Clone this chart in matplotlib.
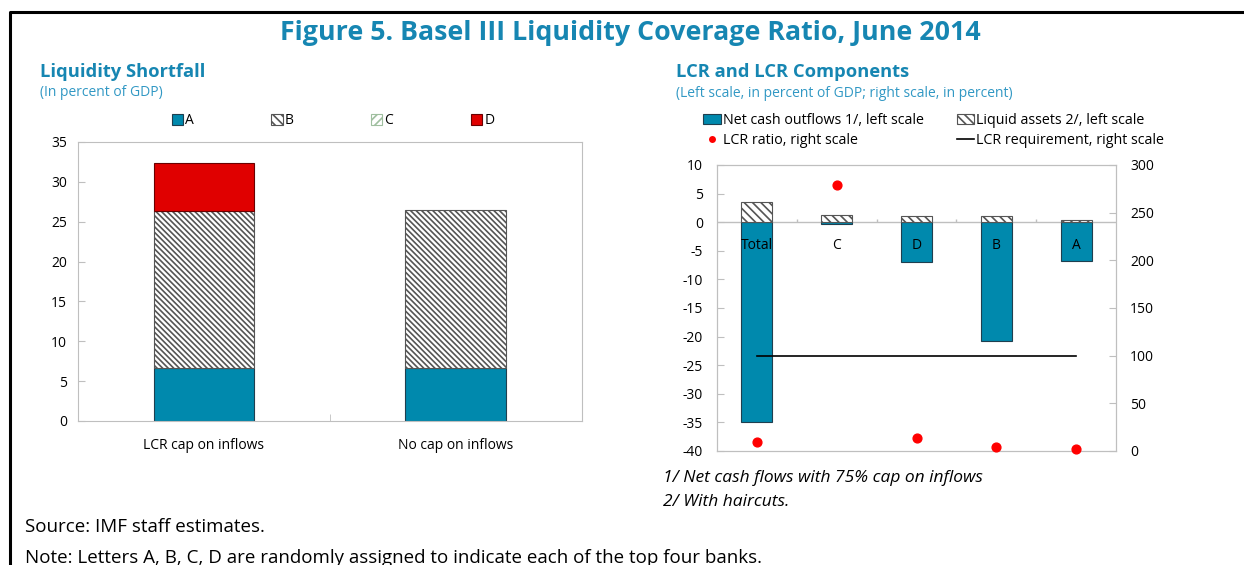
import matplotlib
matplotlib.use("Agg")
import matplotlib.pyplot as plt
from matplotlib.patches import Patch
from matplotlib.lines import Line2D
import numpy as np

# ---- data ----
left_cats = ["LCR cap on inflows", "No cap on inflows"]
short_A = [6.65, 6.65]
short_B = [19.7, 19.8]
short_C = [0.0, 0.0]
short_D = [6.0, 0.0]

right_cats = ["Total", "C", "D", "B", "A"]
net_outflows = [-34.9, -0.4, -6.9, -20.7, -6.8]
liquid_assets = [3.45, 1.2, 1.05, 1.15, 0.3]
lcr_ratio = [9, 279, 14, 4.5, 2]
lcr_requirement = [100, 100, 100, 100, 100]

TEAL = "#0089AD"
RED = "#E00000"
TITLE = "#1686B2"
SUB = "#3198C4"
GRID = "#BFBFBF"

plt.rcParams["font.family"] = ["Open Sans", "DejaVu Sans"]
plt.rcParams["hatch.linewidth"] = 1.2
plt.rcParams["axes.unicode_minus"] = False

fig = plt.figure(figsize=(12.44, 5.65), dpi=100)

fig.text(0.507, 0.942, "Figure 5. Basel III Liquidity Coverage Ratio, June 2014",
         ha="center", va="center", fontsize=19.3, fontweight="bold", color=TITLE)


def lw_for(vals, lw=0.8):
    # no outline on empty segments
    return [lw if v != 0 else 0 for v in vals]


# ---- left panel ----
ax = fig.add_axes([0.0627, 0.2549, 0.405, 0.4938])
x = np.arange(len(left_cats))
w = 0.4
ax.bar(x, short_A, w, color=TEAL, edgecolor="#1f3f4f", lw=lw_for(short_A))
ax.bar(x, short_B, w, bottom=short_A, color="white", edgecolor="#555555",
       hatch="\\\\\\\\\\\\", lw=lw_for(short_B))
bottom_c = np.array(short_A) + np.array(short_B)
ax.bar(x, short_C, w, bottom=bottom_c, color="white", edgecolor="#9fbf9f",
       hatch="////", lw=lw_for(short_C))
bottom_d = bottom_c + np.array(short_C)
ax.bar(x, short_D, w, bottom=bottom_d, color=RED, edgecolor="#6a0000",
       lw=lw_for(short_D))
ax.set_xlim(-0.5, 1.5)
ax.set_ylim(0, 35)
ax.set_yticks(range(0, 36, 5))
ax.set_xticks(x)
ax.set_xticklabels(left_cats, fontsize=10)
ax.set_xticks([0.5], minor=True)
ax.tick_params(axis="y", direction="in", length=5, color=GRID, labelsize=10, pad=8)
ax.tick_params(axis="x", which="major", length=0, pad=12)
ax.tick_params(axis="x", which="minor", direction="in", length=5, color=GRID)
for s in ax.spines.values():
    s.set_color(GRID)

fig.text(0.032, 0.873, "Liquidity Shortfall", fontsize=13.2, fontweight="bold",
         color=TITLE, va="center")
fig.text(0.032, 0.837, "(In percent of GDP)", fontsize=10, color=SUB, va="center")

lh = [Patch(facecolor=TEAL, edgecolor="#1f3f4f", lw=0.8),
      Patch(facecolor="white", edgecolor="#555555", hatch="\\\\\\\\", lw=0.8),
      Patch(facecolor="white", edgecolor="#9fbf9f", hatch="////", lw=0.8),
      Patch(facecolor=RED, edgecolor="#6a0000", lw=0.8)]
fig.legend(lh, ["A", "B", "C", "D"], loc="center left",
           bbox_to_anchor=(0.128, 0.786), ncol=4, frameon=False, fontsize=10,
           handlelength=0.8, handleheight=0.8, handletextpad=0.15,
           columnspacing=5.6)

# ---- right panel ----
ax2 = fig.add_axes([0.5764, 0.2018, 0.3207, 0.5062])
xr = np.arange(len(right_cats))
wr = 0.39
ax2.bar(xr, net_outflows, wr, color=TEAL, edgecolor="#1f3f4f", lw=0.8, zorder=2)
ax2.bar(xr, liquid_assets, wr, color="white", edgecolor="#555555",
        hatch="\\\\\\\\", lw=0.8, zorder=2)
ax2.axhline(0, color=GRID, lw=1, zorder=1)
ax2.vlines(xr[:-1] + 0.5, 0, 0.6, color=GRID, lw=1, zorder=1)
for xi, name in zip(xr, right_cats):
    ax2.text(xi, -4.0, name, ha="center", va="center", fontsize=10, zorder=3)
ax2.set_xlim(-0.5, len(right_cats) - 0.5)
ax2.set_ylim(-40, 10)
ax2.set_yticks(range(-40, 11, 5))
ax2.set_xticks([])
ax2.tick_params(axis="y", direction="in", length=5, color=GRID, labelsize=10, pad=10)
for s in ax2.spines.values():
    s.set_color(GRID)

ax3 = ax2.twinx()
ax3.scatter(xr, lcr_ratio, s=40, color="#FF0000", zorder=4, clip_on=False)
ax3.plot(xr, lcr_requirement, color="black", lw=1.2, zorder=3)
ax3.set_ylim(0, 300)
ax3.set_yticks(range(0, 301, 50))
ax3.tick_params(axis="y", direction="in", length=5, color=GRID, labelsize=10, pad=10)
for s in ax3.spines.values():
    s.set_color(GRID)

fig.text(0.5435, 0.873, "LCR and LCR Components", fontsize=13.2, fontweight="bold",
         color=TITLE, va="center")
fig.text(0.5435, 0.835, "(Left scale, in percent of GDP; right scale, in percent)",
         fontsize=10, color=SUB, va="center")

rh = [Patch(facecolor=TEAL, edgecolor="#1f3f4f", lw=0.8),
      Line2D([], [], marker="o", color="none", markerfacecolor="#FF0000",
             markeredgecolor="none", markersize=5),
      Patch(facecolor="white", edgecolor="#555555", hatch="\\\\\\\\", lw=0.8),
      Line2D([], [], color="black", lw=1.2)]
rl = ["Net cash outflows 1/, left scale", "LCR ratio, right scale",
      "Liquid assets 2/, left scale", "LCR requirement, right scale"]
fig.legend(rh, rl, loc="center left", bbox_to_anchor=(0.555, 0.769), ncol=2,
           frameon=False, fontsize=10.3, handlelength=1.25, handleheight=0.7,
           handletextpad=0.1, columnspacing=2.3, labelspacing=0.3)

fig.text(0.533, 0.154, "1/ Net cash flows with 75% cap on inflows",
         fontsize=12.5, style="italic", va="center")
fig.text(0.533, 0.112, "2/ With haircuts.", fontsize=12.5, style="italic", va="center")
fig.text(0.020, 0.067, "Source: IMF staff estimates.", fontsize=13.5, va="center")
fig.text(0.020, 0.012, "Note: Letters A, B, C, D are randomly assigned to indicate "
         "each of the top four banks.", fontsize=13.5, va="center")

# frame lines (top and left)
fig.add_artist(Line2D([0.008, 0.008, 1.0], [0.0, 0.979, 0.979],
                      transform=fig.transFigure, color="black", lw=2.2))

fig.savefig("out.png", dpi=100)
